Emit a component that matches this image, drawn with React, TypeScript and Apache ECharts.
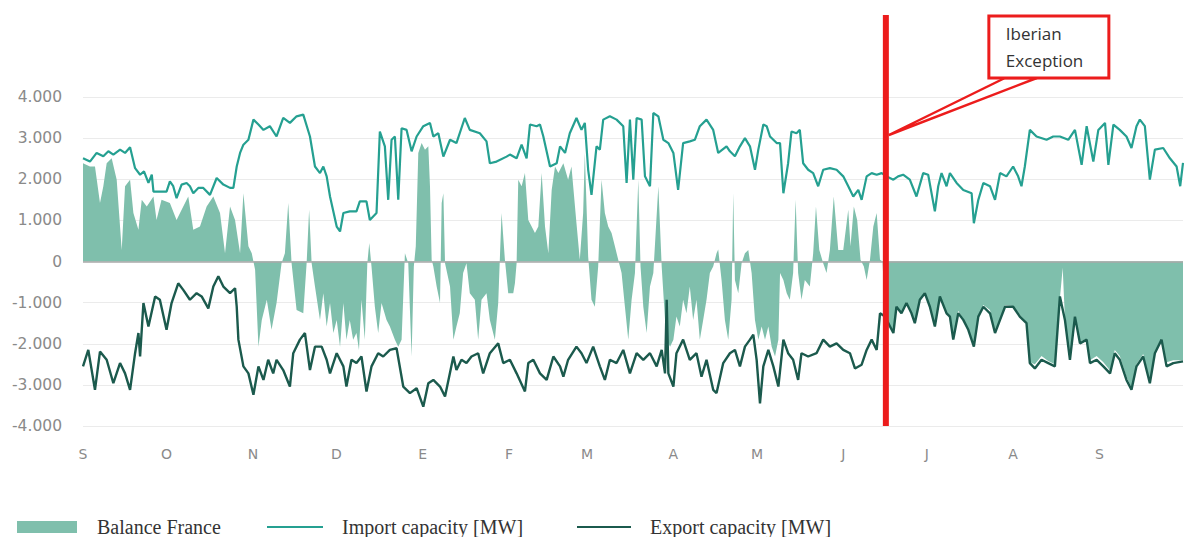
import React, { useEffect, useRef } from "react";
import * as echarts from "echarts";

// x values are days since 1 September 2021
const monthStartDays = [0, 30, 61, 91, 122, 153, 181, 212, 242, 273, 303, 334, 365];
const monthLabels = ["S", "O", "N", "D", "E", "F", "M", "A", "M", "J", "J", "A", "S"];
const yTicks = [-4000, -3000, -2000, -1000, 0, 1000, 2000, 3000, 4000];
const iberianExceptionDay = 288.3;

const importDays = [
  0, 2.5, 4.9, 7.3, 9.1, 10.9, 13.3, 15.1, 16.9, 18.7, 20.5, 21.9, 23.5, 24.7, 25.3, 27.6, 30.0, 31.2, 32.4, 33.6,
  35.4, 37.2, 38.4, 39.6, 41.4, 43.2, 45.6, 48.0, 50.4, 52.8, 54.0, 55.2, 56.4, 57.6, 59.4, 61.2, 63.0, 64.8, 67.1, 69.5,
  71.9, 74.3, 76.7, 79.1, 81.5, 83.3, 85.1, 86.3, 87.5, 88.7, 91.1, 92.3, 93.5, 95.8, 98.2, 99.4, 101.8, 103.0, 105.4, 106.6,
  108.4, 109.6, 110.8, 112.0, 113.2, 114.4, 116.2, 118.0, 119.8, 122.2, 124.6, 125.8, 127.6, 129.4, 131.8, 134.1, 137.1, 138.9, 142.5, 144.9,
  146.1, 148.5, 152.1, 153.3, 155.7, 157.5, 159.3, 160.5, 162.9, 164.1, 165.3, 167.7, 170.1, 171.3, 173.1, 174.8, 177.2, 179.0, 180.2, 181.4,
  182.6, 184.4, 185.6, 186.8, 189.2, 191.6, 194.0, 195.2, 196.4, 197.6, 198.8, 200.6, 201.8, 203.6, 204.8, 206.6, 208.4, 210.2, 212.0, 213.7,
  215.5, 217.9, 219.7, 221.5, 223.9, 226.3, 228.1, 231.1, 232.3, 234.1, 235.9, 237.7, 239.5, 241.3, 242.5, 244.3, 245.5, 246.7, 249.1, 250.3,
  251.5, 253.2, 254.4, 256.2, 257.4, 258.6, 260.4, 262.2, 264.0, 265.8, 268.2, 270.6, 273.0, 274.8, 276.6, 278.4, 279.6, 281.4, 283.2, 285.0,
  286.8, 288.6, 291.0, 292.7, 294.5, 296.9, 299.3, 301.7, 303.5, 305.9, 307.1, 308.3, 310.1, 311.3, 313.7, 316.1, 319.1, 319.9, 321.5, 323.3,
  325.7, 327.5, 329.3, 331.6, 334.0, 335.8, 337.0, 338.2, 340.0, 342.4, 346.0, 348.4, 350.8, 353.8, 356.2, 358.6, 360.4, 362.8, 364.6, 367.0,
  368.2, 370.0, 372.3, 374.7, 376.5, 378.3, 379.5, 381.3, 383.1, 384.9, 387.9, 390.3, 392.7, 394.0, 395.0
];
const importMW = [
  2510, 2430, 2640, 2560, 2680, 2600, 2720, 2640, 2780, 2270, 2110, 2190, 1910, 2110, 1700, 1700, 1700, 1950, 1830, 1540,
  1870, 1910, 1830, 1660, 1790, 1790, 1620, 2030, 1870, 1790, 1790, 2310, 2640, 2840, 2960, 3450, 3330, 3200, 3290, 3040,
  3490, 3370, 3530, 3570, 3040, 2310, 2150, 2310, 2070, 1580, 850, 730, 1180, 1220, 1220, 1460, 1460, 1010, 1180, 3160,
  2800, 1500, 2960, 3040, 1500, 3240, 3200, 2680, 3040, 3290, 3370, 3040, 3120, 2550, 2960, 2880, 3490, 3200, 3120, 2920,
  2390, 2430, 2550, 2600, 2510, 2840, 2510, 3330, 3290, 3330, 3040, 2310, 2390, 2800, 2640, 3120, 3490, 3200, 3370, 2230,
  1620, 2800, 2720, 3450, 3530, 3450, 3290, 1910, 3450, 1990, 3490, 3450, 2070, 1830, 3610, 3530, 2960, 2880, 2640, 1740,
  2880, 2920, 2960, 3290, 3450, 3200, 2640, 2800, 2680, 2560, 2800, 3000, 2800, 2230, 2720, 3330, 3290, 3040, 2880, 2880,
  1660, 2390, 3160, 3120, 3200, 2390, 2230, 2150, 1830, 2230, 2270, 2230, 2070, 1830, 1580, 1740, 1500, 2070, 2150, 2110,
  2150, 2070, 1990, 2070, 2110, 1990, 1580, 2150, 2110, 1220, 1830, 2150, 1830, 2150, 1910, 1740, 1660, 930, 1500, 1910,
  1830, 1500, 2150, 2070, 2310, 2070, 1830, 2310, 3200, 3040, 2960, 3040, 3040, 2960, 3200, 2350, 3290, 2430, 3200, 3370,
  2350, 3330, 3200, 3040, 2760, 3290, 3450, 3290, 1990, 2720, 2760, 2510, 2310, 1830, 2400
];

const exportDays = [
  0, 1.9, 4.3, 6.1, 8.5, 10.9, 13.3, 15.1, 16.9, 18.7, 19.9, 20.5, 21.7, 23.5, 25.9, 27.6, 30.0, 31.8, 34.2, 36.0,
  38.4, 40.8, 42.6, 45.0, 46.8, 48.6, 50.4, 52.8, 54.6, 55.2, 55.8, 57.6, 59.4, 61.2, 63.0, 64.8, 66.5, 68.3, 69.5, 71.9,
  74.3, 75.5, 77.9, 79.7, 81.5, 83.3, 85.7, 87.5, 88.7, 91.1, 93.5, 94.6, 96.4, 98.2, 100.0, 101.8, 103.6, 106.0, 107.8, 110.2,
  112.6, 115.0, 117.4, 119.8, 122.2, 124.0, 125.8, 128.2, 130.0, 133.0, 134.1, 135.9, 137.7, 139.5, 141.9, 143.7, 146.1, 149.1, 150.9, 153.3,
  155.7, 158.7, 159.9, 161.7, 164.1, 166.5, 168.9, 171.3, 172.5, 174.2, 177.2, 179.0, 180.8, 183.2, 185.6, 187.4, 189.2, 191.6, 194.0, 196.4,
  198.8, 201.2, 203.6, 206.0, 207.8, 209.0, 209.6, 210.2, 212.0, 213.1, 215.5, 217.9, 220.3, 222.1, 223.9, 226.3, 227.5, 229.9, 232.3, 234.1,
  235.9, 237.7, 239.5, 240.7, 241.9, 243.1, 244.3, 246.1, 247.9, 249.7, 251.5, 253.2, 255.0, 256.8, 258.0, 260.4, 263.4, 265.8, 268.2, 270.6,
  273.0, 275.4, 277.2, 279.6, 281.4, 283.2, 285.0, 286.2, 288.0, 289.8, 291.0, 292.1, 293.9, 295.7, 297.5, 298.7, 300.5, 302.3, 304.1, 305.9,
  307.7, 310.1, 311.3, 312.5, 314.3, 316.1, 317.9, 319.9, 321.5, 323.3, 325.7, 327.5, 329.3, 331.1, 334.0, 336.4, 338.8, 340.0, 341.8, 344.2,
  346.6, 349.0, 350.8, 352.6, 354.4, 356.2, 358.0, 360.4, 361.6, 364.0, 366.4, 368.8, 370.5, 372.3, 374.7, 376.5, 378.3, 380.7, 383.1, 384.9,
  387.3, 389.1, 391.5, 395.0
];
const exportMW = [
  -2550, -2150, -3120, -2190, -2390, -2960, -2470, -2720, -3120, -2230, -1740, -2310, -1010, -1580, -850, -930, -1660, -1010, -530, -690,
  -930, -770, -850, -1140, -610, -360, -610, -770, -650, -1100, -1900, -2550, -2720, -3240, -2550, -2880, -2390, -2720, -2390, -2640,
  -3040, -2230, -1900, -1740, -2640, -2070, -2070, -2390, -2720, -2230, -2550, -3040, -2390, -2470, -2310, -3160, -2550, -2230, -2310, -2150,
  -2110, -3040, -3200, -3080, -3530, -2960, -2880, -3040, -3280, -2310, -2640, -2390, -2470, -2310, -2230, -2720, -2230, -1990, -2470, -2390,
  -2720, -3160, -2470, -2390, -2720, -2880, -2310, -2550, -2800, -2390, -2070, -2230, -2470, -2070, -2550, -2880, -2390, -2470, -2150, -2720,
  -2230, -2390, -2230, -2550, -2150, -2720, -930, -2720, -3040, -2230, -1900, -2390, -2230, -2800, -2390, -3120, -3200, -2470, -2230, -2150,
  -2550, -2070, -1900, -1780, -2390, -3450, -2550, -2150, -2550, -3040, -1900, -2230, -2390, -2880, -2230, -2310, -2230, -1900, -2070, -1990,
  -2150, -2230, -2600, -2510, -2150, -1900, -2150, -1260, -1340, -1580, -1740, -1100, -1260, -1010, -1260, -1500, -930, -770, -1100, -1580,
  -850, -1260, -1340, -1900, -1260, -1420, -1660, -2070, -1340, -1100, -1260, -1740, -1420, -1100, -1100, -1340, -1500, -2470, -2600, -2390,
  -2470, -2550, -850, -1420, -2390, -1340, -1990, -1900, -2470, -2390, -2550, -2720, -2230, -2390, -2880, -3120, -2550, -2310, -2960, -2230,
  -1900, -2550, -2470, -2430
];

const balanceDays = [
  0, 2.5, 4.3, 6.1, 7.3, 8.5, 10.3, 12.1, 13.9, 15.1, 16.9, 18.1, 19.9, 21.1, 22.9, 25.3, 26.4, 28.2, 31.2, 33.6,
  36.0, 37.8, 39.6, 42.0, 44.4, 46.8, 49.2, 51.0, 52.8, 54.6, 56.4, 57.6, 59.4, 60.6, 61.8, 63.0, 64.2, 66.0, 67.7, 69.5,
  71.3, 72.5, 73.7, 74.9, 76.7, 79.1, 80.3, 81.2, 82.1, 83.3, 85.1, 86.3, 87.5, 88.7, 89.9, 91.1, 92.3, 93.5, 94.6, 95.8,
  97.0, 98.2, 99.1, 100.0, 101.2, 102.1, 102.8, 103.6, 104.8, 106.0, 107.2, 109.0, 110.2, 112.0, 113.2, 114.4, 115.6, 116.8, 118.0, 118.8,
  119.5, 120.4, 121.6, 122.8, 124.0, 124.6, 125.2, 125.8, 127.0, 128.2, 128.8, 129.4, 130.0, 131.8, 133.0, 134.1, 135.3, 136.5, 137.7, 138.9,
  140.7, 141.9, 143.1, 144.9, 146.1, 147.9, 149.1, 150.3, 151.5, 152.7, 154.5, 155.1, 155.7, 156.3, 157.5, 158.7, 159.9, 161.1, 162.3, 163.5,
  164.7, 165.9, 167.1, 168.3, 169.5, 170.7, 172.5, 174.2, 175.4, 177.2, 178.4, 179.6, 180.2, 181.4, 182.6, 183.8, 185.0, 186.2, 187.4, 188.6,
  189.8, 191.0, 192.2, 193.4, 194.6, 195.8, 197.0, 198.2, 199.4, 200.2, 201.2, 202.4, 203.6, 204.8, 206.6, 207.8, 209.0, 209.6, 210.8, 212.0,
  213.1, 214.3, 215.5, 216.7, 217.9, 219.1, 220.3, 221.5, 222.7, 223.9, 225.1, 226.3, 227.5, 228.1, 229.3, 230.5, 231.7, 232.9, 233.5, 234.1,
  235.3, 236.5, 237.7, 238.9, 240.1, 241.3, 242.5, 243.7, 244.9, 246.1, 247.3, 248.5, 249.7, 250.3, 251.5, 252.7, 253.8, 255.0, 255.9, 256.8,
  258.0, 259.2, 261.0, 262.2, 263.2, 264.4, 265.8, 267.0, 268.2, 269.6, 271.2, 273.0, 274.8, 275.6, 276.8, 278.0, 279.2, 280.4, 281.4, 282.6,
  283.8, 285.0, 286.2, 287.1, 288.0, 289.8, 291.0, 292.1, 293.9, 295.7, 297.5, 298.7, 300.5, 302.3, 304.1, 305.9, 307.7, 310.1, 311.3, 312.5,
  314.3, 316.1, 317.9, 319.9, 321.5, 323.3, 325.7, 327.5, 329.3, 331.1, 334.0, 336.4, 338.8, 340.0, 341.8, 344.2, 346.6, 349.0, 350.8, 351.8,
  352.6, 354.4, 356.2, 358.0, 360.4, 361.6, 364.0, 366.4, 368.8, 370.5, 372.3, 374.7, 376.5, 378.3, 380.7, 383.1, 384.9, 387.3, 389.1, 391.5,
  395.0
];
const balanceMW = [
  2390, 2310, 2310, 1420, 1830, 2390, 2510, 1990, 280, 1830, 1990, 1180, 770, 1500, 1340, 1580, 1010, 1500, 1420, 1010,
  1340, 1580, 770, 850, 1340, 1580, 1180, 200, 1340, 1010, 200, 1660, 370, 200, -200, -2070, -1420, -930, -1660, -1010,
  -40, 200, 1420, -40, -1180, -1260, -40, 1260, -40, -610, -1420, -770, -1580, -1010, -1740, -1420, -2070, -1010, -1900, -1420,
  -1900, -1740, -2150, -930, -1900, -40, 450, -120, -1100, -1740, -1010, -1420, -1580, -1900, -2070, -1900, 200, -40, -2310, -120,
  370, 2640, 2880, 2720, 2800, 1830, 40, -120, -610, -1010, 1420, 1660, -40, -610, -1900, -1580, -1260, -280, -40, -770,
  -930, -1900, -930, -770, -1420, -1900, -1010, 1180, 40, -770, -770, -530, -40, 1990, 1830, 2150, 1010, 850, 690, 850,
  2150, 850, 200, 1740, 2310, 2150, 2390, 1990, 2310, 930, 40, 1180, 2640, 120, -930, -1100, -120, 1990, 1180, 850,
  690, 370, 40, -280, -1100, -1900, -930, -280, 1990, -120, -1100, -1740, -610, -280, 1830, -120, -1420, -1900, -2070, -1900,
  -1340, -1580, -930, -1260, -610, -1420, -930, -1900, -1420, -930, -280, -120, 200, 290, -450, -1420, -1900, -930, 1660, -450,
  -770, -40, 200, 280, -280, -1420, -1900, -1580, -1900, -1580, -2070, -2310, -1900, -280, -450, -770, -930, -280, 1500, -280,
  -930, -450, -610, 200, 1340, 280, -40, -280, 280, 1580, 280, 280, 1260, 370, 1340, 1010, 40, -120, -450, 40,
  850, 1180, 40, 0, -1300, -1560, -1700, -1080, -1240, -990, -1240, -1470, -910, -750, -1080, -1560, -830, -1240, -1320, -1880,
  -1200, -1400, -1640, -2050, -1300, -1060, -1180, -1720, -1400, -1060, -1080, -1300, -1480, -2450, -2500, -2300, -2420, -2500, -900, -150,
  -1400, -2370, -1320, -1950, -1880, -2400, -2300, -2450, -2650, -2150, -2300, -2800, -3080, -2500, -2250, -2900, -2200, -1880, -2450, -2400,
  -2400
];

const pairs = (d: number[], v: number[]) => d.map((x, i) => [x, v[i]]);

const fmtY = (v: number) => {
  if (v === 0) return "0";
  const s = v < 0 ? "-" : "";
  return s + Math.floor(Math.abs(v) / 1000) + ".000";
};

export default function App() {
  const ref = useRef<HTMLDivElement>(null);
  useEffect(() => {
    const chart = echarts.init(ref.current as HTMLDivElement, null, { renderer: "svg" });
    const legendText = { fontFamily: "Liberation Serif", fontSize: 20, color: "#333" };
    chart.setOption({
      animation: false,
      backgroundColor: "#fff",
      grid: { left: 83, right: 3, top: 97, bottom: 111, containLabel: false },
      legend: [
        {
          left: 12, top: 512, icon: "rect", itemWidth: 60, itemHeight: 12,
          data: ["Balance France"], textStyle: { ...legendText, padding: [0, 0, 0, 15] },
        },
        {
          left: 262, top: 512, icon: "rect", itemWidth: 56, itemHeight: 2,
          data: ["Import capacity [MW]"], textStyle: { ...legendText, padding: [0, 0, 0, 14] },
        },
        {
          left: 572, top: 512, icon: "rect", itemWidth: 54, itemHeight: 2,
          data: ["Export capacity [MW]"], textStyle: { ...legendText, padding: [0, 0, 0, 14] },
        },
      ],
      xAxis: {
        type: "value",
        min: 0,
        max: 395,
        axisLine: { show: false },
        axisTick: { show: false },
        splitLine: { show: false },
        axisLabel: {
          customValues: monthStartDays,
          formatter: (v: number) => {
            const i = monthStartDays.indexOf(Math.round(v));
            return i >= 0 ? monthLabels[i] : "";
          },
          color: "#8a8a8a",
          fontFamily: "DejaVu Sans",
          fontSize: 14,
          margin: 21,
        },
      },
      yAxis: {
        type: "value",
        min: yTicks[0],
        max: yTicks[yTicks.length - 1],
        interval: 1000,
        axisLine: { show: false },
        axisTick: { show: false },
        splitLine: { lineStyle: { color: "#ebebeb", width: 1 } },
        axisLabel: {
          formatter: fmtY,
          color: "#8a8a8a",
          fontFamily: "DejaVu Sans",
          fontSize: 15.5,
          margin: 21,
        },
      },
      series: [
        {
          name: "Balance France",
          type: "line",
          data: pairs(balanceDays, balanceMW),
          color: "#7fbfac",
          showSymbol: false,
          lineStyle: { width: 0 },
          areaStyle: { color: "#7fbfac", opacity: 1 },
          z: 1,
          markLine: {
            silent: true,
            symbol: "none",
            label: { show: false },
            lineStyle: { color: "#a8a8a8", width: 1.5, type: "solid" },
            data: [{ yAxis: 0 }],
          },
        },
        {
          name: "Import capacity [MW]",
          type: "line",
          data: pairs(importDays, importMW),
          color: "#25a091",
          showSymbol: false,
          lineStyle: { width: 2.2, color: "#25a091" },
          z: 3,
        },
        {
          name: "Export capacity [MW]",
          type: "line",
          data: pairs(exportDays, exportMW),
          color: "#1b5a4d",
          showSymbol: false,
          lineStyle: { width: 2.4, color: "#1b5a4d" },
          z: 3,
        },
      ],
    });

    const px = chart.convertToPixel({ xAxisIndex: 0 }, iberianExceptionDay) as number;
    const red = "#ec1c1c";
    chart.setOption({
      graphic: [
        { type: "rect", z: 100, shape: { x: px - 3, y: 15, width: 6, height: 411 }, style: { fill: red } },
        {
          type: "polygon", z: 101,
          shape: { points: [[px + 119, 78], [px + 3, 135], [px + 151, 78]] },
          style: { fill: "#fff", stroke: red, lineWidth: 2.5 },
        },
        {
          type: "rect", z: 102,
          shape: { x: px + 103, y: 16, width: 120, height: 62 },
          style: { fill: "#fff", stroke: red, lineWidth: 3 },
        },
        {
          type: "text", z: 103, x: px + 120, y: 20,
          style: {
            text: "Iberian\nException",
            font: "17px 'Open Sans'",
            lineHeight: 27,
            fill: "#333",
          },
        },
      ],
    });

    return () => chart.dispose();
  }, []);
  return (
    <div
      ref={ref}
      style={{ position: "fixed", left: 0, top: 0, width: 1186, height: 537, background: "#fff" }}
    />
  );
}
